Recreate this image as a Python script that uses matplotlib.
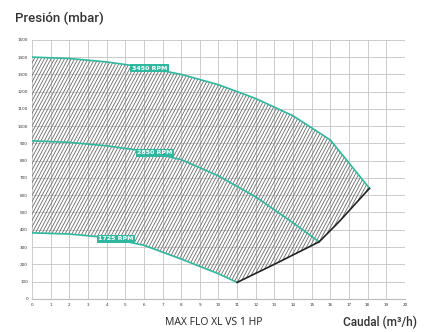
import numpy as np
import matplotlib.pyplot as plt
from matplotlib.collections import LineCollection
from matplotlib.patches import Polygon

# curves (caudal m3/h, presión mbar)
q_3450 = [0, 2, 4, 6, 8, 10, 12, 14, 16, 18.1]
p_3450 = [1400, 1392, 1372, 1342, 1300, 1240, 1160, 1060, 920, 640]
q_2850 = [0, 2, 4, 6, 8, 10, 12, 14, 15.4]
p_2850 = [915, 906, 886, 856, 806, 712, 590, 440, 330]
q_1725 = [0, 2, 4, 6, 8, 10, 11]
p_1725 = [382, 375, 355, 310, 230, 145, 95]
q_lim = [11, 13, 15.4, 16.5, 18.1]
p_lim = [95, 200, 330, 450, 640]

labels = ["3450 RPM", "2850 RPM", "1725 RPM"]
label_q = [6.3, 6.6, 4.5]
label_p = [1336, 845, 347]

GREEN = '#2fb8a0'

fig = plt.figure(figsize=(4.28, 3.32), dpi=100)
ax = fig.add_axes([0.075, 0.10, 0.871, 0.78])
ax.set_xlim(0, 20)
ax.set_ylim(0, 1500)

# hatched operating area: steep diagonal lines clipped to the region
top_q = q_3450[::-1]
top_p = p_3450[::-1]
bot_q = q_1725 + q_lim[1:]
bot_p = p_1725 + p_lim[1:]
region = Polygon(np.column_stack([bot_q + top_q, bot_p + top_p]), closed=True,
                 facecolor='none', edgecolor='none', transform=ax.transData)
ax.add_patch(region)
shift = 7.4            # x shift over the full y range (~62 deg on screen)
segs = [[(c, 0), (c + shift, 1500)] for c in np.arange(-8, 20, 0.18)]
hatch = LineCollection(segs, colors='#6a6a6a', linewidths=0.6, zorder=2)
ax.add_collection(hatch)
hatch.set_clip_path(region)

ax.plot(q_3450, p_3450, color=GREEN, lw=1.2, zorder=3)
ax.plot(q_2850, p_2850, color=GREEN, lw=1.2, zorder=3)
ax.plot(q_1725, p_1725, color=GREEN, lw=1.2, zorder=3)
ax.plot(q_lim, p_lim, color='#222222', lw=1.2, zorder=3)

for t, x, y in zip(labels, label_q, label_p):
    ax.text(x, y, t, color='white', fontsize=4.5, fontweight='bold', ha='center', va='center',
            zorder=4, bbox=dict(boxstyle='square,pad=0.25', fc=GREEN, ec='none'))

ax.set_xticks(np.arange(0, 21, 1))
ax.set_yticks(np.arange(0, 1501, 100))
ax.tick_params(labelsize=3, length=0, colors='#333333', pad=3)
ax.grid(True, color='#c4c4c4', lw=0.6, zorder=0)
for s in ax.spines.values():
    s.set_visible(False)
ax.spines['bottom'].set_visible(True)
ax.spines['bottom'].set_color('#bbbbbb')

fig.text(0.035, 0.945, "Presión (mbar)", fontsize=9.5, family='Roboto', fontweight='medium',
         color='#333333', ha='left', va='center')
fig.text(0.975, 0.03, "Caudal (m³/h)", fontsize=8.5, family='Roboto', fontweight='medium',
         color='#333333', ha='right', va='center')
fig.text(0.5, 0.03, "MAX FLO XL VS 1 HP", fontsize=7.5, family='Open Sans', color='#222222',
         ha='center', va='center')

fig.savefig("out.png", dpi=100)
